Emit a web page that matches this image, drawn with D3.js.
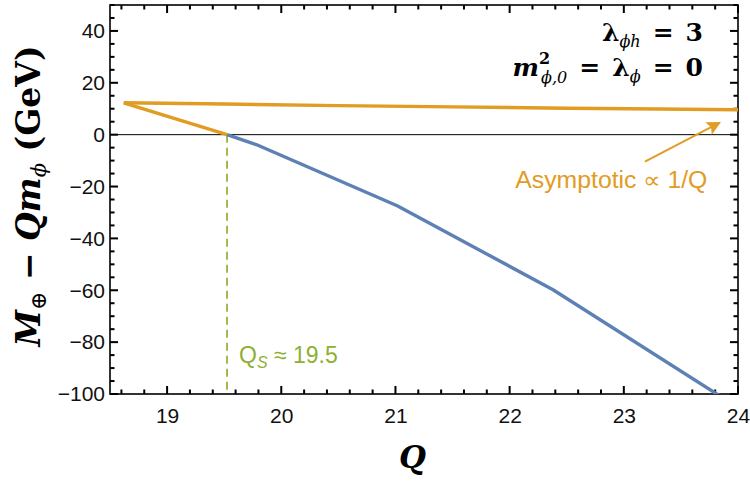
<!DOCTYPE html>
<html>
<head>
<meta charset="utf-8">
<script src="https://cdn.jsdelivr.net/npm/d3@7"></script>
<style>
  body { margin: 0; background: #fff; }
  text { font-family: "Liberation Sans", Arial, sans-serif; }
</style>
</head>
<body>
<div id="chart"></div>
<script>
// upper branch (orange, asymptotic ~1/Q)
const qTop = [18.62, 19.5, 20.5, 21.5, 22.5, 23.3, 24];
const mTop = [12.3, 11.8, 11.2, 10.7, 10.2, 9.9, 9.6];
// lower branch above zero (orange)
const qLow = [18.62, 19.525];
const mLow = [12.3, 0];
// lower branch below zero (blue)
const qBlue = [19.525, 19.78, 21.015, 22.38, 23.85];
const mBlue = [0, -3.8, -27.4, -59.8, -101];
const qS = 19.525;

const xTicks = [19, 20, 21, 22, 23, 24];
const yTicks = [-100, -80, -60, -40, -20, 0, 20, 40];

const orange = "#E19C24", blue = "#5E81B5", green = "#8FB032";

const width = 750, height = 488;
const svg = d3.select("#chart").append("svg")
  .attr("width", width)
  .attr("height", height);

const x = d3.scaleLinear().domain([18.5, 24]).range([110, 738]);
const y = d3.scaleLinear().domain([-100, 50]).range([394, 5]);

const xMinor = d3.range(18.6, 24.0001, 0.2).filter(v => Math.abs(v - Math.round(v)) > 0.01);
const yMinor = d3.range(-100, 50.001, 5).filter(v => v % 20 !== 0);

svg.append("clipPath").attr("id", "plot-clip")
  .append("rect")
  .attr("x", x(18.5)).attr("y", y(50))
  .attr("width", x(24) - x(18.5)).attr("height", y(-100) - y(50));

// zero line
svg.append("line")
  .attr("x1", x(18.5)).attr("x2", x(24))
  .attr("y1", y(0)).attr("y2", y(0))
  .attr("stroke", "#000").attr("stroke-width", 1);

// tick labels
const gx = svg.append("g")
  .attr("transform", `translate(0,${y(-100)})`)
  .call(d3.axisBottom(x).tickValues(xTicks).tickSize(0).tickPadding(14).tickFormat(d3.format("d")));
const gy = svg.append("g")
  .attr("transform", `translate(${x(18.5)},0)`)
  .call(d3.axisLeft(y).tickValues(yTicks).tickSize(0).tickPadding(5));
[gx, gy].forEach(g => {
  g.select(".domain").remove();
  g.selectAll("text").attr("font-size", "21px").attr("fill", "#111")
    .style("font-family", "'Liberation Sans', Arial, sans-serif");
});

// inward ticks on all four sides, as small filled rects
const tickG = svg.append("g").attr("fill", "#000");
const xt = xTicks.map(v => [v, 8]).concat(xMinor.map(v => [v, 4.5]));
const yt = yTicks.map(v => [v, 8]).concat(yMinor.map(v => [v, 4.5]));
tickG.selectAll(".xb").data(xt).join("rect").attr("class", "xb")
  .attr("x", d => x(d[0]) - 1).attr("width", 2)
  .attr("y", d => y(-100) - d[1]).attr("height", d => d[1]);
tickG.selectAll(".xt").data(xt).join("rect").attr("class", "xt")
  .attr("x", d => x(d[0]) - 1).attr("width", 2)
  .attr("y", y(50)).attr("height", d => d[1]);
tickG.selectAll(".yl").data(yt).join("rect").attr("class", "yl")
  .attr("y", d => y(d[0]) - 1).attr("height", 2)
  .attr("x", x(18.5)).attr("width", d => d[1]);
tickG.selectAll(".yr").data(yt).join("rect").attr("class", "yr")
  .attr("y", d => y(d[0]) - 1).attr("height", 2)
  .attr("x", d => x(24) - d[1]).attr("width", d => d[1]);

// frame
svg.append("rect")
  .attr("x", x(18.5)).attr("y", y(50))
  .attr("width", x(24) - x(18.5)).attr("height", y(-100) - y(50))
  .attr("fill", "none").attr("stroke", "#000").attr("stroke-width", 1.6);

// Q_S marker
svg.append("line")
  .attr("x1", x(qS)).attr("x2", x(qS))
  .attr("y1", y(0)).attr("y2", y(-100))
  .attr("stroke", green).attr("stroke-width", 1.7)
  .attr("stroke-dasharray", "8,5");

const line = d3.line().x(d => x(d[0])).y(d => y(d[1]));
const plot = svg.append("g").attr("clip-path", "url(#plot-clip)");

[[qBlue, mBlue, blue], [qLow, mLow, orange], [qTop, mTop, orange]].forEach(([q, m, c]) => {
  plot.append("path")
    .datum(d3.zip(q, m))
    .attr("fill", "none").attr("stroke", c)
    .attr("stroke-width", 3.4).attr("stroke-linejoin", "round")
    .attr("d", line);
});

// annotation arrow
const arrowFrom = [23.185, -10.4], arrowTo = [23.84, 4.6];
svg.append("defs").append("marker")
  .attr("id", "arrowhead")
  .attr("viewBox", "0 0 10 10")
  .attr("refX", 9).attr("refY", 5)
  .attr("markerWidth", 9).attr("markerHeight", 7)
  .attr("markerUnits", "strokeWidth")
  .attr("orient", "auto")
  .append("path").attr("d", "M0,0 L10,5 L0,10 L2,5 Z").attr("fill", orange);

svg.append("line")
  .attr("x1", x(arrowFrom[0])).attr("y1", y(arrowFrom[1]))
  .attr("x2", x(arrowTo[0])).attr("y2", y(arrowTo[1]))
  .attr("stroke", orange).attr("stroke-width", 2)
  .attr("marker-end", "url(#arrowhead)");

svg.append("text")
  .attr("x", x(22.05)).attr("y", y(-20.4))
  .attr("font-size", "23px").attr("fill", orange)
  .attr("textLength", 192).attr("lengthAdjust", "spacingAndGlyphs")
  .text("Asymptotic ∝ 1/Q");

const qsText = svg.append("text")
  .attr("x", x(19.63)).attr("y", y(-87.9))
  .attr("font-size", "23px").attr("fill", green);
qsText.append("tspan").text("Q");
qsText.append("tspan").attr("font-size", "16px").attr("font-style", "italic").attr("dy", 5).text("S");
qsText.append("tspan").attr("dy", -5).text(" ≈ 19.5");

// parameter labels
const serif = "'DejaVu Serif', 'Liberation Serif', serif";
const p1 = svg.append("text")
  .attr("x", 703).attr("y", 41)
  .attr("text-anchor", "end")
  .style("font-family", serif).attr("font-size", "25px").attr("font-weight", "bold");
p1.append("tspan").text("λ");
p1.append("tspan").attr("font-size", "16px").attr("font-style", "italic").attr("font-weight", "normal").attr("dy", 6).text("ϕh");
p1.append("tspan").attr("dy", -6).attr("dx", 12).text("=");
p1.append("tspan").attr("dx", 12).text("3");

const p2 = svg.append("text")
  .attr("x", 703).attr("y", 76)
  .attr("text-anchor", "end")
  .style("font-family", serif).attr("font-size", "25px").attr("font-weight", "bold");
p2.append("tspan").attr("font-style", "italic").text("m");
p2.append("tspan").attr("font-size", "16px").attr("dy", -12).text("2");
p2.append("tspan").attr("font-size", "16px").attr("font-style", "italic").attr("font-weight", "normal").attr("dx", -9).attr("dy", 19).text("ϕ,0");
p2.append("tspan").attr("dy", -7).attr("dx", 12).text("=");
p2.append("tspan").attr("dx", 12).text("λ");
p2.append("tspan").attr("font-size", "16px").attr("font-style", "italic").attr("font-weight", "normal").attr("dy", 6).text("ϕ");
p2.append("tspan").attr("dy", -6).attr("dx", 12).text("=");
p2.append("tspan").attr("dx", 12).text("0");

// axis titles
svg.append("text")
  .attr("x", x(21.15)).attr("y", 468)
  .attr("text-anchor", "middle")
  .style("font-family", serif).attr("font-size", "31px")
  .attr("font-weight", "bold").attr("font-style", "italic")
  .text("Q");

const yl = svg.append("text")
  .attr("transform", "translate(40,196) rotate(-90)")
  .attr("text-anchor", "middle")
  .style("font-family", serif).attr("font-size", "33px").attr("font-weight", "bold");
yl.append("tspan").attr("font-style", "italic").text("M");
yl.append("tspan").attr("font-size", "22px").attr("font-weight", "normal").attr("dy", 6).text("⊕");
yl.append("tspan").attr("dy", -6).text(" − ");
yl.append("tspan").attr("font-style", "italic").text("Qm");
yl.append("tspan").attr("font-size", "21px").attr("font-style", "italic").attr("font-weight", "normal").attr("dy", 6).text("ϕ");
yl.append("tspan").attr("dy", -6).text(" (GeV)");
</script>
</body>
</html>
